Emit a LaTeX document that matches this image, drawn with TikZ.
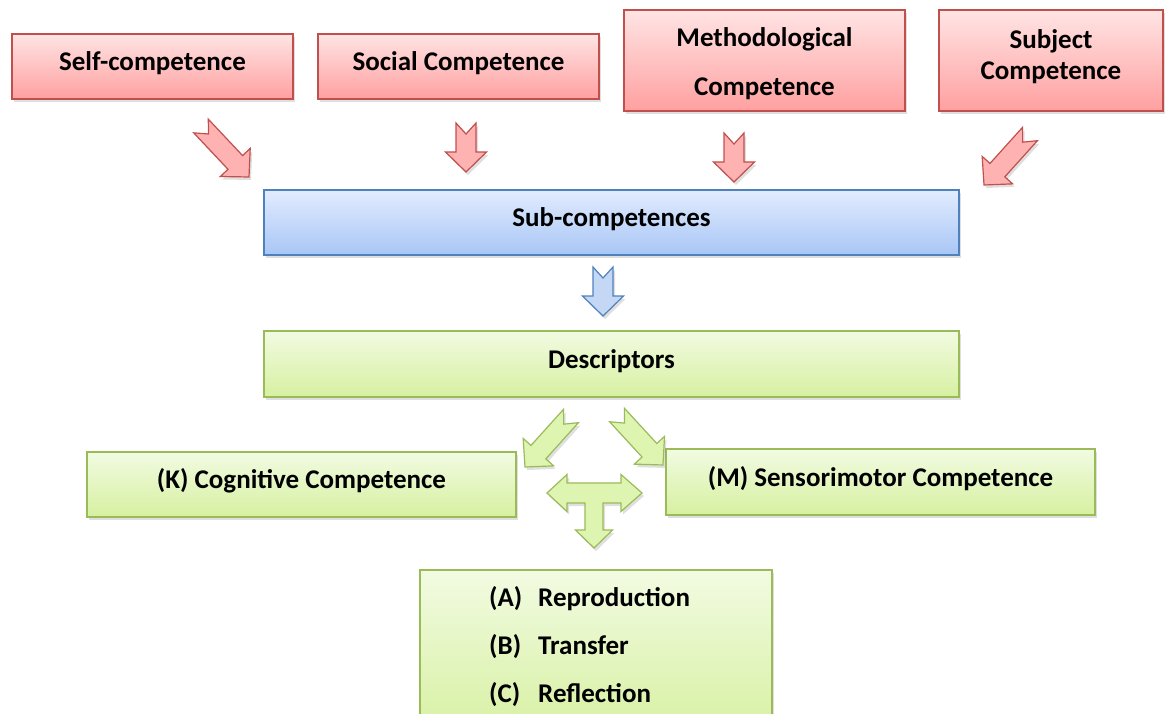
\documentclass[tikz,border=0pt]{standalone}
\usepackage{fontspec}
\setmainfont{Carlito}
\usetikzlibrary{shadows}

\definecolor{redline}{RGB}{192,80,77}
\definecolor{redtop}{RGB}{255,228,228}
\definecolor{redbot}{RGB}{255,160,160}
\definecolor{redarrow}{RGB}{255,178,178}
\definecolor{blueline}{RGB}{79,129,189}
\definecolor{bluetop}{RGB}{226,236,255}
\definecolor{bluebot}{RGB}{168,198,245}
\definecolor{bluearrow}{RGB}{196,216,246}
\definecolor{greenline}{RGB}{155,187,89}
\definecolor{greentop}{RGB}{242,251,226}
\definecolor{greenbot}{RGB}{214,240,160}
\definecolor{greenarrow}{RGB}{222,245,178}

\tikzset{
  labelfont/.style={font=\fontsize{27}{32}\selectfont\bfseries},
  box/.style={draw, line width=1.2pt, inner sep=0pt, align=center, labelfont,
    text height=18pt, text depth=10pt,
    drop shadow={opacity=0.25, shadow xshift=2pt, shadow yshift=-3pt}},
  redbox/.style={box, draw=redline, top color=redtop, bottom color=redbot},
  bluebox/.style={box, draw=blueline, top color=bluetop, bottom color=bluebot},
  greenbox/.style={box, draw=greenline, top color=greentop, bottom color=greenbot},
  arrowbody/.style={line width=1.2pt, line join=miter,
    drop shadow={opacity=0.25, shadow xshift=2pt, shadow yshift=-3pt}},
  redarr/.style={arrowbody, draw=redline, fill=redarrow},
  bluearr/.style={arrowbody, draw=blueline, fill=bluearrow},
  greenarr/.style={arrowbody, draw=greenline, fill=greenarrow},
  listtext/.style={labelfont, anchor=base west, inner sep=0pt},
  twoline/.style={align=center, inner sep=0pt,
    font=\fontsize{27}{#1}\selectfont\bfseries},
}

% Notched block arrow from coordinate #2 (tail) to #3 (tip)
\newcommand\notchedarrow[3][]{%
  \path (#2); \pgfgetlastxy{\tailx}{\taily}%
  \path (#3); \pgfgetlastxy{\tipx}{\tipy}%
  \pgfmathsetmacro\arrang{atan2(\tipy-\taily,\tipx-\tailx)}%
  \pgfmathsetmacro\arrlen{veclen(\tipx-\tailx,\tipy-\taily)}%
  \pgfmathsetmacro\arrneck{\arrlen-20}%
  \begin{scope}[shift={(#2)}, rotate=\arrang]
    \draw[#1] (0pt,10pt) -- (\arrneck pt,10pt) -- (\arrneck pt,20.5pt)
      -- (\arrlen pt,0pt) -- (\arrneck pt,-20.5pt) -- (\arrneck pt,-10pt)
      -- (0pt,-10pt) -- (11pt,0pt) -- cycle;
  \end{scope}%
}

\begin{document}
\begin{tikzpicture}[x=1pt, y=-1pt]
\useasboundingbox (0,0) rectangle (1165,714);
\clip (0,0) rectangle (1165,714);

% competence areas
\node[redbox, minimum width=281pt, minimum height=65pt] (self) at (152.5,66.5) {Self-competence};
\node[redbox, minimum width=281pt, minimum height=65pt] (social) at (458.5,66.5) {Social Competence};
\node[redbox, minimum width=281pt, minimum height=101pt] (method) at (764.5,60.5) {};
\node[twoline=49] (methodtext) at (764.5,63.5) {Methodological\\Competence};
\node[redbox, minimum width=224pt, minimum height=101pt] (subject) at (1051,60.5) {};
\node[twoline=31] (subjecttext) at (1051,57) {Subject\\Competence};

% levels
\node[bluebox, minimum width=695pt, minimum height=65pt] (sub) at (611.5,222.5) {Sub-competences};
\node[greenbox, minimum width=695pt, minimum height=66pt] (desc) at (611.5,364) {Descriptors};
\node[greenbox, minimum width=429pt, minimum height=65pt] (cog) at (301.5,484.5) {(K) Cognitive Competence};
\node[greenbox, minimum width=429pt, minimum height=66pt] (sens) at (880.5,482) {(M) Sensorimotor Competence};
\node[greenbox, minimum width=352pt, minimum height=170pt] (levels) at (596,655) {};
\node[listtext] (la) at (489,606) {(A)};
\node[listtext] (lb) at (489,654) {(B)};
\node[listtext] (lc) at (489,702) {(C)};
\node[listtext] (ta) at (538,606) {Reproduction};
\node[listtext] (tb) at (538,654) {Transfer};
\node[listtext] (tc) at (538,702) {Reflection};

% arrow ends
\coordinate (a1s) at (201,126);  \coordinate (a1e) at (249,177);
\coordinate (a2s) at (466,123);  \coordinate (a2e) at (466,172);
\coordinate (a3s) at (734,133);  \coordinate (a3e) at (734,182);
\coordinate (a4s) at (1030,134); \coordinate (a4e) at (984,185);
\coordinate (b1s) at (603,267);  \coordinate (b1e) at (603,316);
\coordinate (g1s) at (571,416);  \coordinate (g1e) at (525,467);
\coordinate (g2s) at (617,415);  \coordinate (g2e) at (663,465);

\notchedarrow[redarr]{a1s}{a1e}
\notchedarrow[redarr]{a2s}{a2e}
\notchedarrow[redarr]{a3s}{a3e}
\notchedarrow[redarr]{a4s}{a4e}
\notchedarrow[bluearr]{b1s}{b1e}
\notchedarrow[greenarr]{g1s}{g1e}
\notchedarrow[greenarr]{g2s}{g2e}

% three-way arrow between the two competence types
\coordinate (tee) at (594,493);
\draw[greenarr] (547,493) -- (567,474.5) -- (567,483) -- (621,483)
  -- (621,474.5) -- (642,493) -- (621,511.5) -- (621,503)
  -- (603,503) -- (603,530) -- (612.5,530) -- (594,548) -- (575.5,530)
  -- (585,530) -- (585,503) -- (567,503) -- (567,511.5) -- cycle;
\end{tikzpicture}
\end{document}
